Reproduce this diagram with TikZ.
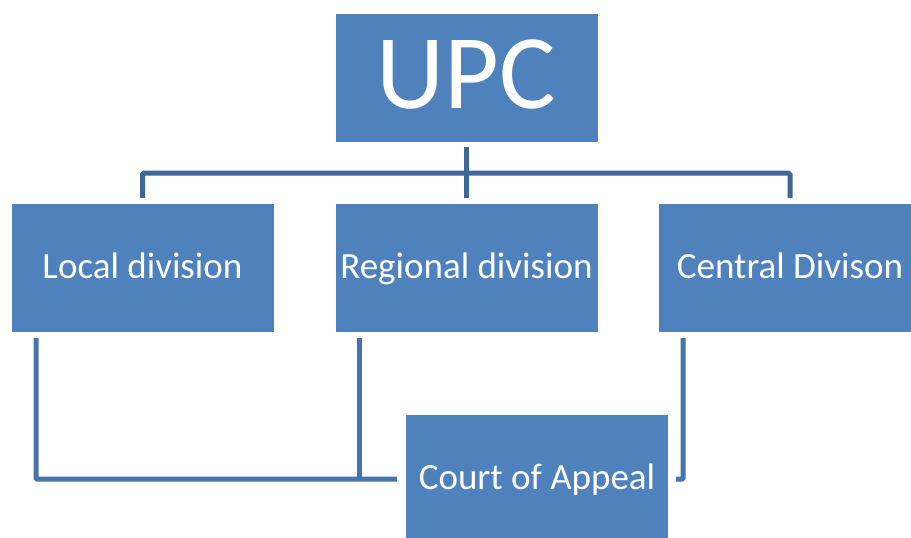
\documentclass[tikz,border=0pt]{standalone}
\usepackage{fontspec}
\setmainfont{Carlito}
\usetikzlibrary{calc}
\definecolor{boxblue}{RGB}{79,129,189}
\definecolor{topline}{RGB}{64,102,152}
\definecolor{lowline}{RGB}{71,116,172}
\begin{document}
\begin{tikzpicture}[x=1pt,y=-1pt,
 box/.style={fill=boxblue, draw=none, minimum width=262pt, minimum height=128pt, inner sep=0pt, text=white, font=\fontsize{37}{44}\selectfont, text height=23.8pt, text depth=2.2pt},
 conn/.style={line width=5pt, draw=topline, rounded corners=1.5pt},
 lowconn/.style={line width=5pt, draw=lowline, rounded corners=1pt}]
\useasboundingbox (0,0) rectangle (911,538);
\clip (0,0) rectangle (911,538);
\node[box, font=\fontsize{106}{110}\selectfont, text height=68pt, text depth=8pt] (upc) at (466.5,78) {UPC};
\node[box] (local) at (142.5,268) {Local division};
\node[box] (reg) at (466.5,268) {Regional division};
\node[box] (cen) at (790,268) {Central Divison};
\node[box] (coa) at (537,479) {Court of Appeal};
% top connectors
\draw[conn] ($(upc.south)+(0,5)$) -- ($(reg.north)+(0,-6)$);
\draw[conn] ($(local.north)+(0,-6)$) |- ($(upc.south)+(0,31)$) -| ($(cen.north)+(0,-6)$);
% lower connectors
\draw[lowconn] ($(local.south)+(-106.5,6)$) |- ($(coa.west)+(-9,0)$);
\draw[lowconn] ($(reg.south)+(-107.5,6)$) -- ($(reg.south |- coa.west)+(-107.5,0)$);
\draw[lowconn] ($(cen.south)+(-107,6)$) |- ($(coa.east)+(8,0)$);
\end{tikzpicture}
\end{document}
